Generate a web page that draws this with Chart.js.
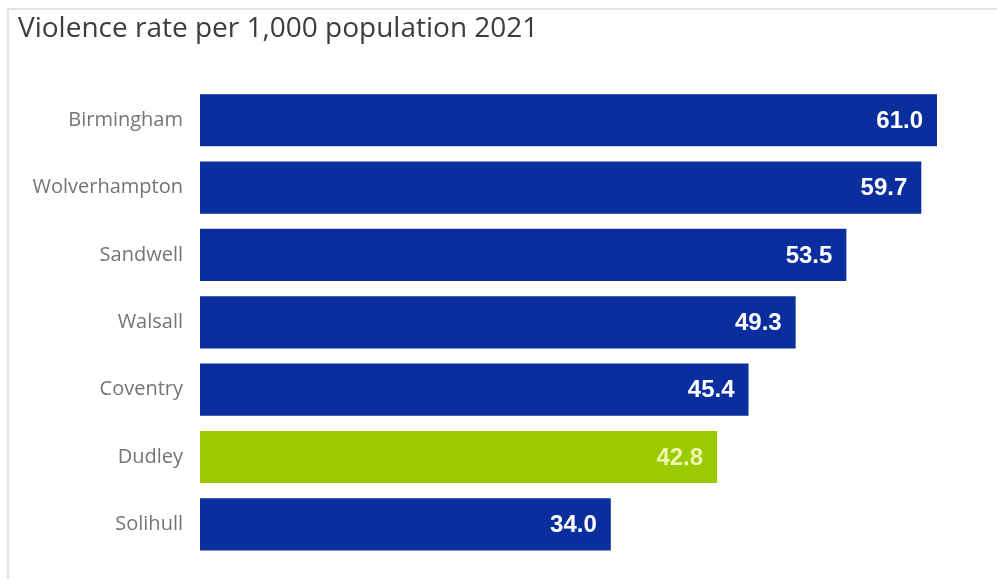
<!DOCTYPE html>
<html>
<head>
<meta charset="utf-8">
<title>Violence rate per 1,000 population 2021</title>
<script src="https://cdn.jsdelivr.net/npm/chart.js@4"></script>
<style>
  html, body { margin: 0; padding: 0; background: #fff; }
  #wrap { position: relative; width: 997px; height: 579px; overflow: hidden; }
  #frame {
    position: absolute; left: 7px; top: 8px; right: 0; bottom: 0;
    border-top: 2px solid #e2e2e2; border-left: 2px solid #e2e2e2;
    pointer-events: none;
  }
  canvas { position: absolute; left: 0; top: 0; }
</style>
</head>
<body>
<div id="wrap">
  <canvas id="violence" width="997" height="579"></canvas>
  <div id="frame"></div>
</div>
<script>
const areas = ['Birmingham', 'Wolverhampton', 'Sandwell', 'Walsall', 'Coventry', 'Dudley', 'Solihull'];
const rates = [61.0, 59.7, 53.5, 49.3, 45.4, 42.8, 34.0];
const highlight = 'Dudley';

const BLUE = '#0b2e9e';
const GREEN = '#9acb00';

const barColors = areas.map(a => a === highlight ? GREEN : BLUE);
const labelColors = areas.map(a => a === highlight ? '#eef6b0' : '#ffffff');

// value written inside the end of each bar
const barValues = {
  id: 'barValues',
  afterDatasetsDraw(chart) {
    const ctx = chart.ctx;
    const meta = chart.getDatasetMeta(0);
    ctx.save();
    ctx.font = 'bold 24px "Liberation Sans", Arial, sans-serif';
    ctx.textAlign = 'right';
    ctx.textBaseline = 'middle';
    meta.data.forEach((bar, i) => {
      ctx.fillStyle = labelColors[i];
      ctx.fillText(rates[i].toFixed(1), bar.x - 14, bar.y + 1);
    });
    ctx.restore();
  }
};

new Chart(document.getElementById('violence'), {
  type: 'bar',
  data: {
    labels: areas,
    datasets: [{
      data: rates,
      backgroundColor: barColors,
      borderWidth: 0,
      barPercentage: 0.775,
      categoryPercentage: 1
    }]
  },
  options: {
    indexAxis: 'y',
    responsive: false,
    animation: false,
    layout: { padding: { left: 18, right: 60, top: 0, bottom: 21 } },
    plugins: {
      legend: { display: false },
      tooltip: { enabled: false },
      title: {
        display: true,
        align: 'start',
        text: 'Violence rate per 1,000 population 2021',
        color: '#3c3c3c',
        font: { family: '"Open Sans", sans-serif', size: 28, weight: 'normal', lineHeight: 1.2 },
        padding: { top: 12, bottom: 41 }
      }
    },
    scales: {
      x: { min: 0, max: 61, display: false },
      y: {
        grid: { display: false, drawTicks: false },
        border: { display: false },
        ticks: {
          padding: 17,
          color: '#747474',
          font: { family: '"Open Sans", sans-serif', size: 20 }
        },
        afterFit(scale) {
          scale.width = 182;
          scale.paddingTop = 0;
          scale.paddingBottom = 0;
        }
      }
    }
  },
  plugins: [barValues]
});
</script>
</body>
</html>
